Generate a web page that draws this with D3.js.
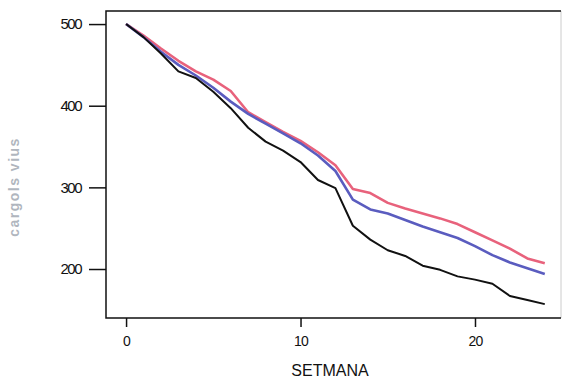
<!DOCTYPE html>
<html>
<head>
<meta charset="utf-8">
<script src="https://cdn.jsdelivr.net/npm/d3@7"></script>
<style>
  body { margin: 0; background: #fff; }
  svg { display: block; font-family: Arial, "Liberation Sans", sans-serif; }
</style>
</head>
<body>
<svg id="chart" width="562" height="382"></svg>
<script>
// weeks 0..24
const weeks = d3.range(0, 25);
const blackSeries = [500, 484, 464, 442, 434, 417, 397, 373, 356, 345, 331, 309, 299, 253, 236, 223, 216, 204, 199, 191, 187, 182, 167, 162, 157];
const blueSeries  = [500, 484, 466, 450, 437, 422, 405, 390, 378, 366, 354, 339, 320, 285, 273, 268, 260, 252, 245, 238, 228, 217, 208, 201, 194];
const redSeries   = [500, 486, 470, 455, 442, 432, 418, 392, 380, 368, 357, 343, 327, 298, 293, 281, 274, 268, 262, 255, 245, 235, 225, 213, 207];
const yTicks = [200, 300, 400, 500];
const xTicks = [0, 10, 20];

const svg = d3.select('#chart');
const plot = { left: 106, right: 561, top: 11, bottom: 318 };

const xScale = d3.scaleLinear()
    .domain([-1.15, 24.93])
    .range([plot.left, plot.right]);
const yScale = d3.scaleLinear()
    .domain([140, 516])
    .range([plot.bottom, plot.top]);

// frame
svg.append('line')
    .attr('x1', plot.right).attr('x2', plot.right)
    .attr('y1', plot.top).attr('y2', plot.bottom)
    .attr('stroke', '#ccc').attr('stroke-width', 1);
svg.append('path')
    .attr('d', `M${plot.right},${plot.top}H${plot.left}V${plot.bottom}H${plot.right}`)
    .attr('fill', 'none').attr('stroke', '#111').attr('stroke-width', 1.5);

// y axis
const yAxis = d3.axisLeft(yScale)
    .tickValues(yTicks)
    .tickSize(17)
    .tickPadding(8);
svg.append('g')
    .attr('transform', `translate(${plot.left},0)`)
    .call(yAxis)
    .call(g => g.select('.domain').remove())
    .call(g => g.selectAll('line').attr('stroke', '#111').attr('stroke-width', 1.5))
    .call(g => g.selectAll('text')
        .attr('fill', '#111')
        .attr('font-size', 15)
        .attr('letter-spacing', -1.5)
        .attr('font-family', 'Arial, "Liberation Sans", sans-serif'));

// x axis
const xAxis = d3.axisBottom(xScale)
    .tickValues(xTicks)
    .tickSize(9)
    .tickPadding(9);
svg.append('g')
    .attr('transform', `translate(0,${plot.bottom})`)
    .call(xAxis)
    .call(g => g.select('.domain').remove())
    .call(g => g.selectAll('line').attr('stroke', '#111').attr('stroke-width', 1.5))
    .call(g => g.selectAll('text')
        .attr('fill', '#111')
        .attr('font-size', 14)
        .attr('letter-spacing', -0.8)
        .attr('font-family', 'Arial, "Liberation Sans", sans-serif'));

// axis titles
svg.append('text')
    .attr('x', 330).attr('y', 376)
    .attr('text-anchor', 'middle')
    .attr('font-size', 16)
    .attr('fill', '#111')
    .text('SETMANA');

svg.append('text')
    .attr('transform', 'translate(19,187) rotate(-90)')
    .attr('text-anchor', 'middle')
    .attr('font-size', 14)
    .attr('font-weight', 'bold')
    .attr('letter-spacing', 1.5)
    .attr('fill', '#b0b6be')
    .text('cargols vius');

// lines
const lineGen = d3.line()
    .x((d, i) => xScale(weeks[i]))
    .y(d => yScale(d));

const series = [
    { values: redSeries, color: '#e8627c', width: 2.6 },
    { values: blueSeries, color: '#5a5cbf', width: 2.6 },
    { values: blackSeries, color: '#111', width: 2 }
];

svg.selectAll('.series')
    .data(series)
    .join('path')
    .attr('class', 'series')
    .attr('d', d => lineGen(d.values))
    .attr('fill', 'none')
    .attr('stroke', d => d.color)
    .attr('stroke-width', d => d.width)
    .attr('stroke-linejoin', 'round');
</script>
</body>
</html>
